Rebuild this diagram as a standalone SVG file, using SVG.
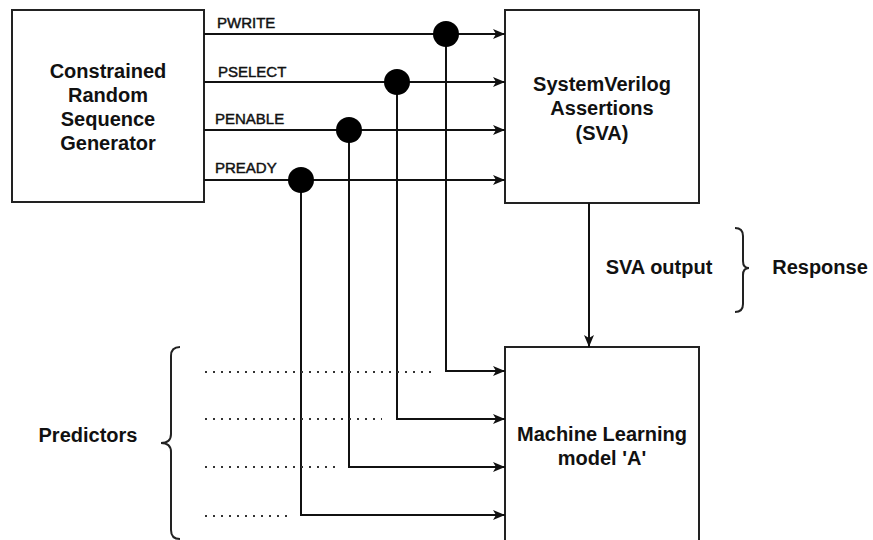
<svg xmlns="http://www.w3.org/2000/svg" width="873" height="540" viewBox="0 0 873 540">
  <style>
    .box { fill: #fff; stroke: #222; stroke-width: 2; }
    .wire { fill: none; stroke: #111; stroke-width: 2; }
    .dots { fill: none; stroke: #333; stroke-width: 2; stroke-dasharray: 2 6; }
    .brace { fill: none; stroke: #222; stroke-width: 2; }
    .title { font-family: "Liberation Sans", Arial, sans-serif; font-size: 20px; font-weight: bold; fill: #111; text-anchor: middle; }
    .sig { font-family: "Liberation Sans", Arial, sans-serif; font-size: 15px; fill: #111; stroke: #111; stroke-width: 0.45; }
    .tap { fill: #000; }
  </style>
  <defs>
    <marker id="arrow" viewBox="0 0 12 10" refX="12" refY="5" markerWidth="12" markerHeight="10" markerUnits="userSpaceOnUse" orient="auto">
      <path d="M0,0 L12,5 L0,10 L3,5 Z" fill="#111"/>
    </marker>
  </defs>
  <rect width="873" height="540" fill="#fff"/>

  <g id="generator">
    <rect class="box" x="12" y="10" width="192" height="192"/>
    <text class="title" x="108" y="78">Constrained</text>
    <text class="title" x="108" y="102">Random</text>
    <text class="title" x="108" y="126">Sequence</text>
    <text class="title" x="108" y="150">Generator</text>
  </g>

  <g id="sva">
    <rect class="box" x="505" y="10" width="194" height="193"/>
    <text class="title" x="602" y="91">SystemVerilog</text>
    <text class="title" x="602" y="115">Assertions</text>
    <text class="title" x="602" y="140">(SVA)</text>
  </g>

  <g id="ml-model">
    <rect class="box" x="505" y="347" width="194" height="200"/>
    <text class="title" x="602" y="441">Machine Learning</text>
    <text class="title" x="602" y="465">model 'A'</text>
  </g>

  <g id="connectors">
    <!-- signal buses into the assertions block -->
    <line class="wire" x1="204" y1="34" x2="505" y2="34" marker-end="url(#arrow)"/>
    <line class="wire" x1="204" y1="82" x2="505" y2="82" marker-end="url(#arrow)"/>
    <line class="wire" x1="204" y1="130" x2="505" y2="130" marker-end="url(#arrow)"/>
    <line class="wire" x1="204" y1="180" x2="505" y2="180" marker-end="url(#arrow)"/>
    <!-- taps feeding the model -->
    <polyline class="wire" points="446,34 446,371 505,371" marker-end="url(#arrow)"/>
    <polyline class="wire" points="397,82 397,419 505,419" marker-end="url(#arrow)"/>
    <polyline class="wire" points="349,130 349,467 505,467" marker-end="url(#arrow)"/>
    <polyline class="wire" points="301,180 301,515 505,515" marker-end="url(#arrow)"/>
    <!-- assertion output into the model -->
    <line class="wire" x1="589" y1="203" x2="589" y2="347" marker-end="url(#arrow)"/>
    <circle class="tap" cx="446" cy="34" r="13"/>
    <circle class="tap" cx="397" cy="82" r="13"/>
    <circle class="tap" cx="349" cy="130" r="13"/>
    <circle class="tap" cx="301" cy="180" r="13"/>
  </g>

  <g id="signal-labels">
    <text class="sig" x="217" y="28">PWRITE</text>
    <text class="sig" x="218" y="77">PSELECT</text>
    <text class="sig" x="215" y="124">PENABLE</text>
    <text class="sig" x="215" y="173">PREADY</text>
  </g>

  <g id="predictor-dots">
    <line class="dots" x1="205" y1="372" x2="433" y2="372"/>
    <line class="dots" x1="205" y1="419" x2="382" y2="419"/>
    <line class="dots" x1="205" y1="467" x2="338" y2="467"/>
    <line class="dots" x1="205" y1="516" x2="288" y2="516"/>
  </g>

  <g id="predictors">
    <path class="brace" d="M180,347 Q171,347 171,356 L171,434 Q171,443 161,443 Q171,443 171,452 L171,530 Q171,539 180,539"/>
    <text class="title" x="88" y="442">Predictors</text>
  </g>

  <g id="response">
    <path class="brace" d="M735,228 Q743,228 743,236 L743,261 Q743,268 749,268 Q743,268 743,275 L743,304 Q743,312 735,312"/>
    <text class="title" x="659" y="274">SVA output</text>
    <text class="title" x="820" y="274">Response</text>
  </g>
</svg>
